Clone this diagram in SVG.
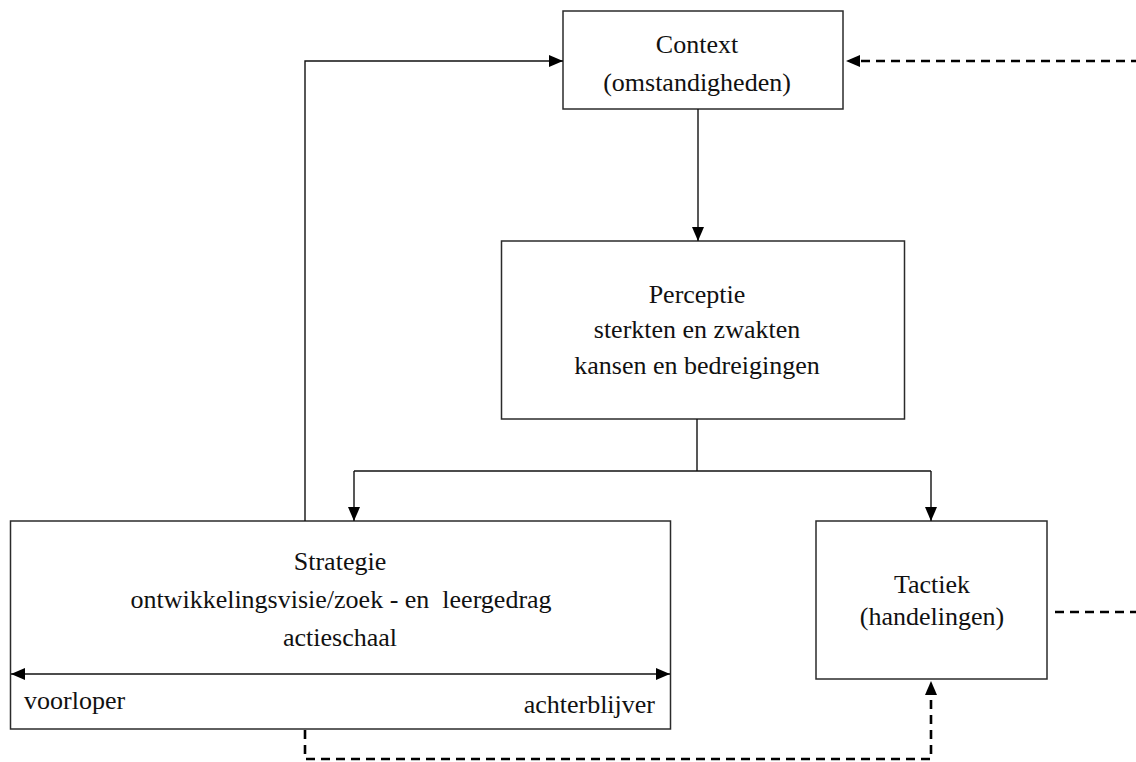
<svg xmlns="http://www.w3.org/2000/svg" width="1136" height="762" viewBox="0 0 1136 762">
  <style>
    .box { fill: #ffffff; stroke: #2b2b2b; stroke-width: 1.5; }
    .lbl { font-family: "Liberation Serif", "Times New Roman", serif; font-size: 26px; fill: #111111; text-anchor: middle; }
    .lft { text-anchor: start; }
    .rgt { text-anchor: end; }
    .flow { fill: none; stroke: #111111; stroke-width: 1.4; }
    .dash { fill: none; stroke: #000000; stroke-width: 2.6; stroke-dasharray: 9 6; }
  </style>
  <defs>
    <marker id="head" markerUnits="userSpaceOnUse" markerWidth="14" markerHeight="14" viewBox="0 0 14 14" refX="14" refY="7" orient="auto-start-reverse">
      <path d="M0,1 L14,7 L0,13 Z" fill="#000000"/>
    </marker>
  </defs>

  <rect width="1136" height="762" fill="#ffffff"/>

  <g id="context">
    <rect class="box" x="563" y="11" width="280" height="98"/>
    <text class="lbl" x="697" y="53">Context</text>
    <text class="lbl" x="697" y="91">(omstandigheden)</text>
  </g>

  <g id="perceptie">
    <rect class="box" x="501.5" y="241" width="403" height="178"/>
    <text class="lbl" x="697" y="303">Perceptie</text>
    <text class="lbl" x="697" y="338">sterkten en zwakten</text>
    <text class="lbl" x="697" y="374">kansen en bedreigingen</text>
  </g>

  <g id="strategie">
    <rect class="box" x="10.5" y="521" width="660" height="208"/>
    <text class="lbl" x="340" y="570">Strategie</text>
    <text class="lbl" x="341" y="608" xml:space="preserve">ontwikkelingsvisie/zoek - en  leergedrag</text>
    <text class="lbl" x="340" y="646">actieschaal</text>
    <!-- actieschaal: two-headed scale across the box -->
    <path class="flow" d="M11,674 H670" marker-start="url(#head)" marker-end="url(#head)"/>
    <text class="lbl lft" x="24" y="709">voorloper</text>
    <text class="lbl rgt" x="655" y="713">achterblijver</text>
  </g>

  <g id="tactiek">
    <rect class="box" x="816" y="521" width="231" height="158"/>
    <text class="lbl" x="932" y="593">Tactiek</text>
    <text class="lbl" x="932" y="625">(handelingen)</text>
  </g>

  <g id="connectors">
    <!-- Context to Perceptie -->
    <path class="flow" d="M698,109 V241" marker-end="url(#head)"/>
    <!-- Perceptie branching to Strategie and Tactiek -->
    <path class="flow" d="M697,419 V471"/>
    <path class="flow" d="M354,471 H931"/>
    <path class="flow" d="M354,471 V521" marker-end="url(#head)"/>
    <path class="flow" d="M931,471 V521" marker-end="url(#head)"/>
    <!-- Strategie feedback to Context -->
    <path class="flow" d="M305,521 V61 H563" marker-end="url(#head)"/>
    <!-- dashed feedback loops -->
    <path class="dash" d="M1140,61 H850"/>
    <path d="M846,61 L860,55 L860,67 Z" fill="#000000"/>
    <path class="dash" d="M1055,612 H1140"/>
    <path class="dash" d="M305,730 V759 H931 V696"/>
    <path d="M931,681 L925,695 L937,695 Z" fill="#000000"/>
  </g>
</svg>
